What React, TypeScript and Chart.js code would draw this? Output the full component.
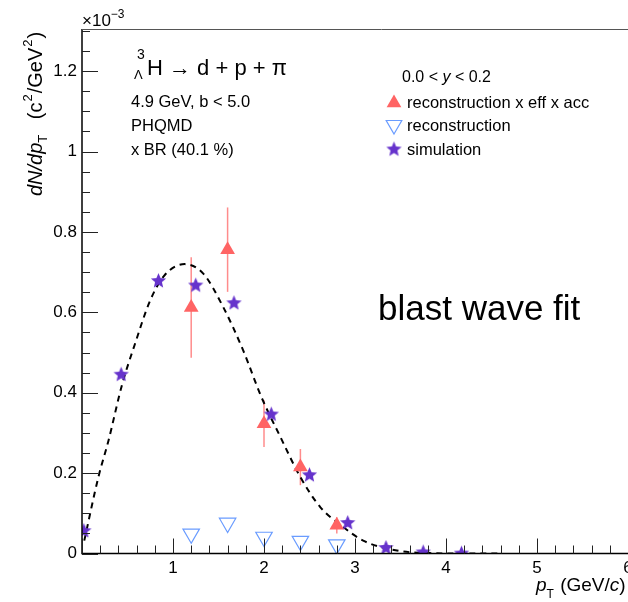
import React, { useEffect, useRef } from 'react';
import { Chart, registerables } from 'chart.js';
Chart.register(...registerables);

// ---- data (y in units of 1e-3) ----
const simX = [0.02, 0.43, 0.84, 1.25, 1.67, 2.08, 2.5, 2.92, 3.34, 3.75, 4.17];
const simY = [0.057, 0.446, 0.679, 0.668, 0.624, 0.347, 0.196, 0.077, 0.015, 0.004, 0.001];
const recEffX = [1.2, 1.6, 2.0, 2.4, 2.8];
const recEffY = [0.612, 0.756, 0.323, 0.215, 0.07];
const recEffErr = [0.125, 0.105, 0.058, 0.045, 0.02];
const recX = [1.2, 1.6, 2.0, 2.4, 2.8];
const recY = [0.049, 0.076, 0.041, 0.031, 0.022];
const fitX = [0.025, 0.18, 0.29, 0.44, 0.58, 0.75, 0.91, 1.13, 1.33, 1.55, 1.77, 1.97, 2.18, 2.4, 2.62, 2.87, 3.09, 3.46, 3.82, 4.2, 4.6];
const fitY = [0.032, 0.19, 0.28, 0.42, 0.52, 0.63, 0.693, 0.72, 0.697, 0.614, 0.506, 0.39, 0.29, 0.19, 0.115, 0.066, 0.032, 0.0075, 0.001, 0.0, 0.0];
const xTickLabels = ['', '1', '2', '3', '4', '5', '6'];

const FAM = "'Liberation Sans', Arial, Helvetica, sans-serif";
const RED = '#ff6464';
const RED_ERR = '#ff8c8c';
const BLUE = '#6a9cff';
const PURPLE = '#6633cc';

const W = 680;
const H = 602;
const XMAX = 6.4;
const YMAX = 1.305;

function makeStar(color: string, size: number) {
  const c = document.createElement('canvas');
  c.width = size;
  c.height = size;
  const ctx = c.getContext('2d')!;
  const cx = size / 2, cy = size / 2 + 0.5;
  const R = size / 2 - 0.5, r = R * 0.45;
  ctx.beginPath();
  for (let i = 0; i < 10; i++) {
    const a = -Math.PI / 2 + (i * Math.PI) / 5;
    const rr = i % 2 === 0 ? R : r;
    ctx.lineTo(cx + rr * Math.cos(a), cy + rr * Math.sin(a));
  }
  ctx.closePath();
  ctx.fillStyle = color;
  ctx.fill();
  return c;
}

type Seg = { t: string; size: number; italic?: boolean; dy?: number; dx?: number };
function drawRich(ctx: CanvasRenderingContext2D, segs: Seg[], x: number, y: number) {
  let cx = x;
  for (const s of segs) {
    ctx.font = `${s.italic ? 'italic ' : ''}${s.size}px ${FAM}`;
    cx += s.dx || 0;
    ctx.fillText(s.t, cx, y + (s.dy || 0));
    cx += ctx.measureText(s.t).width;
  }
  return cx - x;
}

function triPath(ctx: CanvasRenderingContext2D, x: number, y: number, r: number, down: boolean) {
  const s = down ? -1 : 1;
  ctx.beginPath();
  ctx.moveTo(x, y - s * r);
  ctx.lineTo(x + r * 0.866, y + s * r * 0.5);
  ctx.lineTo(x - r * 0.866, y + s * r * 0.5);
  ctx.closePath();
}

export default function App() {
  const ref = useRef<HTMLCanvasElement | null>(null);
  useEffect(() => {
    const canvas = ref.current!;
    const star = makeStar(PURPLE, 17);

    const decor = {
      id: 'decor',
      beforeDatasetsDraw(chart: any) {
        const ctx = chart.ctx as CanvasRenderingContext2D;
        const xs = chart.scales.x, ys = chart.scales.y;
        ctx.save();
        ctx.strokeStyle = RED_ERR;
        ctx.lineWidth = 1.5;
        recEffX.forEach((xv, i) => {
          const px = xs.getPixelForValue(xv);
          ctx.beginPath();
          ctx.moveTo(px, ys.getPixelForValue(recEffY[i] - recEffErr[i]));
          ctx.lineTo(px, ys.getPixelForValue(recEffY[i] + recEffErr[i]));
          ctx.stroke();
        });
        ctx.restore();
      },
      afterDraw(chart: any) {
        const ctx = chart.ctx as CanvasRenderingContext2D;
        const { left, right, top, bottom } = chart.chartArea;
        const xs = chart.scales.x, ys = chart.scales.y;
        ctx.save();
        // frame
        ctx.strokeStyle = '#000';
        ctx.lineWidth = 1.5;
        ctx.beginPath();
        ctx.moveTo(left, top);
        ctx.lineTo(left, bottom);
        ctx.lineTo(right + 20, bottom);
        ctx.stroke();
        ctx.strokeStyle = '#555';
        ctx.lineWidth = 1;
        ctx.beginPath();
        ctx.moveTo(left, top + 0.5);
        ctx.lineTo(right + 20, top + 0.5);
        ctx.stroke();
        // x ticks
        ctx.strokeStyle = '#222';
        ctx.lineWidth = 1;
        for (let i = 0; i <= Math.round(XMAX * 5); i++) {
          const v = i / 5;
          const px = Math.round(xs.getPixelForValue(v)) + 0.5;
          const len = i % 5 === 0 ? 15 : 8;
          ctx.beginPath();
          ctx.moveTo(px, bottom);
          ctx.lineTo(px, bottom - len);
          ctx.stroke();
        }
        // y ticks
        for (let i = 0; i <= Math.floor(YMAX * 20 + 1e-6); i++) {
          const v = i / 20;
          const py = Math.round(ys.getPixelForValue(v)) + 0.5;
          const len = i % 4 === 0 ? 16 : 8;
          ctx.beginPath();
          ctx.moveTo(left, py);
          ctx.lineTo(left + len, py);
          ctx.stroke();
        }
        ctx.fillStyle = '#000';
        ctx.textAlign = 'left';
        ctx.textBaseline = 'alphabetic';
        // exponent
        drawRich(ctx, [
          { t: '×10', size: 17 },
          { t: '−3', size: 12, dy: -8 },
        ], 82, 26);
        // y title
        ctx.save();
        ctx.translate(42, 196);
        ctx.rotate(-Math.PI / 2);
        drawRich(ctx, [
          { t: 'dN/dp', size: 20, italic: true },
          { t: 'T', size: 13, dy: 5 },
          { t: ' (c', size: 20, dx: 10 },
          { t: '2', size: 13, dy: -10, dx: 1 },
          { t: '/GeV', size: 20, dx: 1 },
          { t: '2', size: 13, dy: -10, dx: 1 },
          { t: ')', size: 20, dx: 1 },
        ], 0, 0);
        ctx.restore();
        // x title
        drawRich(ctx, [
          { t: 'p', size: 19, italic: true },
          { t: 'T', size: 12, dy: 7 },
          { t: ' (GeV/', size: 19, dx: 1 },
          { t: 'c', size: 19, italic: true },
          { t: ')', size: 19 },
        ], 536, 591);
        // header text
        ctx.font = `14px ${FAM}`;
        ctx.fillText('3', 137, 59);
        ctx.font = `13px ${FAM}`;
        ctx.fillText('Λ', 134, 79);
        ctx.font = `22px ${FAM}`;
        ctx.fillText('H → d + p + π', 147, 75);
        ctx.font = `16.5px ${FAM}`;
        ctx.fillText('4.9 GeV, b < 5.0', 131, 107);
        ctx.fillText('PHQMD', 131, 131);
        ctx.fillText('x BR (40.1 %)', 131, 155);
        // legend
        drawRich(ctx, [
          { t: '0.0 < ', size: 16 },
          { t: 'y', size: 16, italic: true },
          { t: ' < 0.2', size: 16 },
        ], 402, 82);
        ctx.font = `16.5px ${FAM}`;
        ctx.fillText('reconstruction x eff x acc', 407, 108);
        ctx.fillText('reconstruction', 407, 131);
        ctx.fillText('simulation', 407, 155);
        ctx.fillStyle = RED;
        triPath(ctx, 394, 103, 8.5, false);
        ctx.fill();
        ctx.strokeStyle = BLUE;
        ctx.lineWidth = 1.2;
        triPath(ctx, 394, 125, 9, true);
        ctx.stroke();
        ctx.drawImage(star, 385.5, 140.5);
        // blast wave fit
        ctx.fillStyle = '#000';
        ctx.font = `35px ${FAM}`;
        ctx.fillText('blast wave fit', 378, 320);
        ctx.restore();
      },
    };

    const chart = new Chart(canvas, {
      type: 'scatter',
      data: {
        datasets: [
          {
            label: 'fit',
            type: 'line',
            data: fitX.map((x, i) => ({ x, y: fitY[i] })),
            borderColor: '#000',
            borderWidth: 2,
            borderDash: [6, 5],
            pointRadius: 0,
            fill: false,
            cubicInterpolationMode: 'monotone',
            order: 3,
          } as any,
          {
            label: 'reconstruction x eff x acc',
            data: recEffX.map((x, i) => ({ x, y: recEffY[i] })),
            pointStyle: 'triangle',
            pointRadius: 8.5,
            backgroundColor: RED,
            borderColor: RED,
            borderWidth: 0,
            order: 1,
          },
          {
            label: 'reconstruction',
            data: recX.map((x, i) => ({ x, y: recY[i] })),
            pointStyle: 'triangle',
            rotation: 180,
            pointRadius: 9.5,
            backgroundColor: 'rgba(0,0,0,0)',
            borderColor: BLUE,
            borderWidth: 1.2,
            order: 2,
          },
          {
            label: 'simulation',
            data: simX.map((x, i) => ({ x, y: simY[i] })),
            pointStyle: star,
            pointRadius: 8,
            order: 0,
          },
        ],
      },
      options: {
        animation: false,
        responsive: false,
        maintainAspectRatio: false,
        events: [],
        layout: { padding: { top: 29, right: W - 82 - XMAX * 91, left: 0, bottom: 0 } },
        plugins: { legend: { display: false }, tooltip: { enabled: false } },
        scales: {
          x: {
            type: 'linear',
            min: 0,
            max: XMAX,
            afterFit: (s: any) => { s.height = H - 553.5; },
            grid: { display: false, drawTicks: false, tickLength: 0 },
            border: { display: false },
            ticks: {
              stepSize: 1,
              includeBounds: false,
              autoSkip: false,
              maxRotation: 0,
              padding: 5,
              color: '#000',
              font: { family: FAM, size: 17 },
              callback: (v: any) => xTickLabels[Math.round(v)] ?? '',
            },
          },
          y: {
            type: 'linear',
            min: 0,
            max: YMAX,
            afterFit: (s: any) => { s.width = 82; },
            grid: { display: false, drawTicks: false, tickLength: 0 },
            border: { display: false },
            ticks: {
              stepSize: 0.2,
              includeBounds: false,
              padding: 5,
              color: '#000',
              font: { family: FAM, size: 17 },
              callback: (v: any) => String(Math.round(v * 10) / 10),
            },
          },
        },
      },
      plugins: [decor],
    });
    return () => chart.destroy();
  }, []);

  return (
    <div style={{ position: 'fixed', left: 0, top: 0, width: 628, height: 602, overflow: 'hidden', background: '#fff' }}>
      <canvas ref={ref} width={W} height={H} style={{ display: 'block', width: W, height: H }} />
    </div>
  );
}
